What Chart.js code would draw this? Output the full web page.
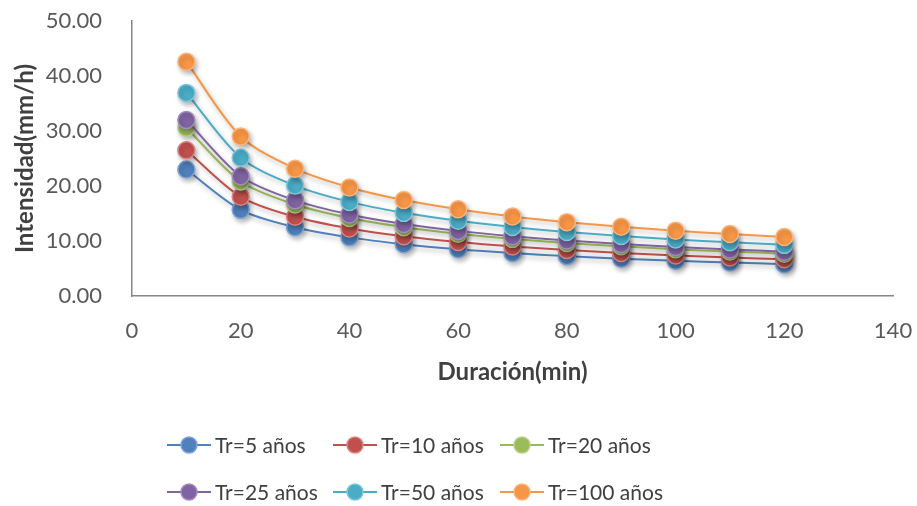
<!DOCTYPE html>
<html>
<head>
<meta charset="utf-8">
<script src="https://cdn.jsdelivr.net/npm/chart.js@4.4.1/dist/chart.umd.min.js"></script>
<style>
  html, body { margin: 0; padding: 0; background: #fff; }
  #wrap { width: 917px; height: 506px; position: relative; }
</style>
</head>
<body>
<div id="wrap"><canvas id="idf"></canvas></div>
<script>
// Duraciones (min)
const durations = [10, 20, 30, 40, 50, 60, 70, 80, 90, 100, 110, 120];

// Intensidades (mm/h) por periodo de retorno
const tr5   = [23.00, 15.66, 12.50, 10.66, 9.42, 8.51, 7.81, 7.25, 6.79, 6.41, 6.08, 5.79];
const tr10  = [26.50, 18.04, 14.40, 12.28, 10.85, 9.81, 9.00, 8.36, 7.83, 7.38, 7.00, 6.67];
const tr20  = [30.59, 20.82, 16.63, 14.17, 12.52, 11.32, 10.39, 9.65, 9.04, 8.52, 8.08, 7.70];
const tr25  = [32.00, 21.78, 17.39, 14.83, 13.10, 11.84, 10.87, 10.09, 9.45, 8.92, 8.46, 8.06];
const tr50  = [36.93, 25.14, 20.07, 17.11, 15.12, 13.67, 12.54, 11.64, 10.91, 10.29, 9.76, 9.30];
const tr100 = [42.60, 29.00, 23.15, 19.74, 17.44, 15.77, 14.47, 13.43, 12.58, 11.87, 11.26, 10.73];

const seriesNames = ['Tr=5 años', 'Tr=10 años', 'Tr=20 años', 'Tr=25 años', 'Tr=50 años', 'Tr=100 años'];
const seriesData = [tr5, tr10, tr20, tr25, tr50, tr100];
const seriesColors = ['#4F81BD', '#C0504D', '#9BBB59', '#8064A2', '#4BACC6', '#F79646'];
const seriesEdges  = ['#7FA4D3', '#D88583', '#B9D08C', '#A18DBE', '#7FC6D9', '#FAB57F'];

const FONT = 'Lato, "Open Sans", sans-serif';

// soft drop shadow under lines and markers, like the office export
const shadowPlugin = {
  id: 'shadow',
  beforeDatasetsDraw(chart) {
    const ctx = chart.ctx;
    ctx.save();
    ctx.shadowColor = 'rgba(0,0,0,0.28)';
    ctx.shadowBlur = 5;
    ctx.shadowOffsetX = 2;
    ctx.shadowOffsetY = 3;
  },
  afterDatasetsDraw(chart) {
    chart.ctx.restore();
  }
};

// legend in a fixed 3-column grid under the chart
const gridLegend = {
  id: 'gridLegend',
  afterDraw(chart) {
    const ctx = chart.ctx;
    const colX = [167, 333, 500];
    const rowY = [445, 492];
    ctx.save();
    ctx.font = '21px ' + FONT;
    ctx.textBaseline = 'middle';
    ctx.textAlign = 'left';
    chart.data.datasets.forEach((ds, i) => {
      const x = colX[i % 3];
      const y = rowY[Math.floor(i / 3)];
      ctx.strokeStyle = ds.borderColor;
      ctx.lineWidth = 2;
      ctx.beginPath();
      ctx.moveTo(x, y);
      ctx.lineTo(x + 44, y);
      ctx.stroke();
      ctx.beginPath();
      ctx.arc(x + 22, y, 8, 0, Math.PI * 2);
      ctx.fillStyle = ds.pointBackgroundColor;
      ctx.fill();
      ctx.lineWidth = 1.5;
      ctx.strokeStyle = ds.pointBorderColor;
      ctx.stroke();
      ctx.fillStyle = '#404040';
      ctx.fillText(ds.label, x + 48, y + 1);
    });
    ctx.restore();
  }
};

const datasets = seriesNames.map((name, i) => ({
  label: name,
  data: durations.map((d, j) => ({ x: d, y: seriesData[i][j] })),
  borderColor: seriesColors[i],
  backgroundColor: seriesColors[i],
  pointBackgroundColor: seriesColors[i],
  pointBorderColor: seriesEdges[i],
  pointBorderWidth: 1.5,
  pointRadius: 8.5,
  borderWidth: 2,
  tension: 0.3,
  showLine: true,
  order: seriesNames.length - i // larger Tr drawn on top
}));

new Chart(document.getElementById('idf'), {
  type: 'scatter',
  data: { datasets },
  options: {
    responsive: true,
    maintainAspectRatio: false,
    animation: false,
    layout: { padding: { left: 0, right: 24, top: 21, bottom: 110 } },
    scales: {
      x: {
        type: 'linear',
        min: 0,
        max: 140,
        afterFit: s => { s.height = 100; s.paddingLeft = 0; s.paddingRight = 0; },
        ticks: { stepSize: 20, padding: 14, color: '#595959', font: { size: 22, family: FONT } },
        grid: { display: false },
        border: { display: true, color: '#868686', width: 1.5 },
        title: {
          display: true,
          text: 'Duración(min)',
          color: '#404040',
          font: { size: 24, weight: 'bold', family: FONT },
          padding: { top: 0, bottom: 9 }
        }
      },
      y: {
        min: 0,
        max: 50,
        afterFit: s => { s.width = 132; s.paddingTop = 0; s.paddingBottom = 0; },
        ticks: {
          stepSize: 10,
          padding: 22,
          color: '#595959',
          font: { size: 22, family: FONT },
          callback: v => Number(v).toFixed(2)
        },
        grid: { display: false },
        border: { display: true, color: '#868686', width: 1.5 },
        title: {
          display: true,
          text: 'Intensidad(mm/h)',
          color: '#404040',
          font: { size: 24, weight: 'bold', family: FONT },
          padding: { top: 11, bottom: 0 }
        }
      }
    },
    plugins: {
      legend: { display: false },
      tooltip: { enabled: false }
    }
  },
  plugins: [shadowPlugin, gridLegend]
});
</script>
</body>
</html>
